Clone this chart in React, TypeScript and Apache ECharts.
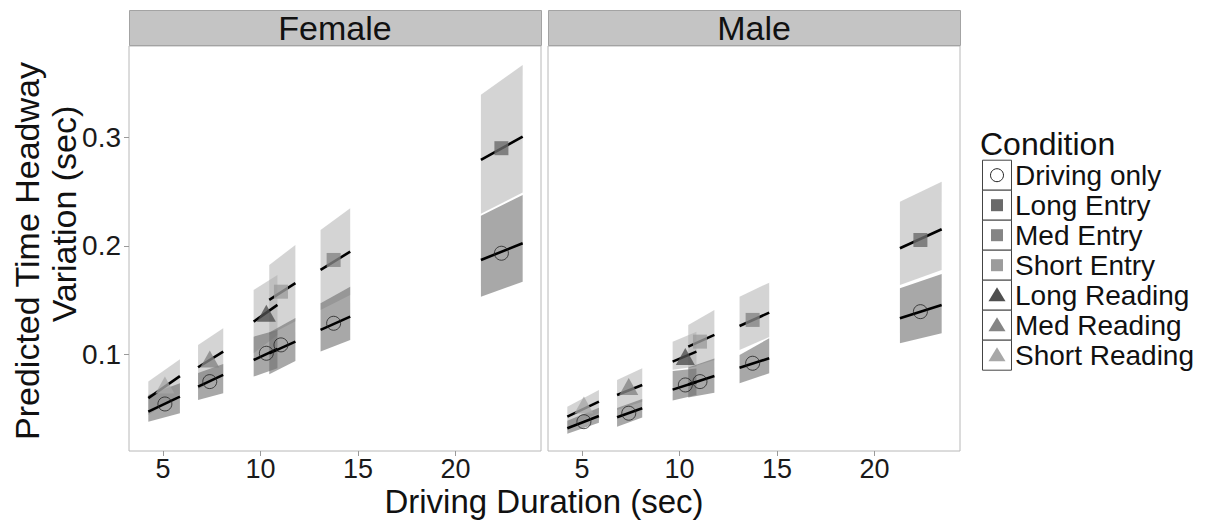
import React, { useEffect, useRef } from "react";
import * as echarts from "echarts";

const FONT = '"Liberation Sans", Arial, sans-serif';

const panels = ["Female", "Male"];
const conditions = ["Driving only", "Long Entry", "Med Entry", "Short Entry", "Long Reading", "Med Reading", "Short Reading"];
const conditionColors = ["none", "#6a6a6a", "#858585", "#9c9c9c", "#4f4f4f", "#858585", "#a8a8a8"];
const conditionSymbols = ["circle", "rect", "rect", "rect", "triangle", "triangle", "triangle"];

// task condition at each mean driving duration
const taskOrder = ["Short Reading", "Med Reading", "Long Reading", "Short Entry", "Med Entry", "Long Entry"];
const taskMean = [5.1, 7.4, 10.3, 11.05, 13.75, 22.35];
const rangeLo = [4.25, 6.8, 9.65, 10.45, 13.08, 21.3];
const rangeHi = [5.87, 8.09, 10.87, 11.79, 14.6, 23.44];

const xTicks = [5, 10, 15, 20];
const yTicks = [0.1, 0.2, 0.3];

// Female
const fDrivePoint = [0.0544, 0.075, 0.1011, 0.1088, 0.1287, 0.1932];
const fDriveLine0 = [0.0473, 0.0704, 0.0949, 0.101, 0.1226, 0.187];
const fDriveLine1 = [0.0611, 0.0812, 0.1051, 0.1118, 0.1348, 0.2024];
const fDriveLo0 = [0.0381, 0.058, 0.0796, 0.0817, 0.1026, 0.1532];
const fDriveHi0 = [0.0627, 0.083, 0.1164, 0.1203, 0.1471, 0.2278];
const fDriveLo1 = [0.0459, 0.0643, 0.0873, 0.094, 0.1134, 0.167];
const fDriveHi1 = [0.0735, 0.0913, 0.1226, 0.1336, 0.1624, 0.2469];

const fTaskPoint = [0.0719, 0.0959, 0.138, 0.1578, 0.187, 0.2899];
const fTaskLine0 = [0.0598, 0.0882, 0.1302, 0.1502, 0.1778, 0.2791];
const fTaskLine1 = [0.0801, 0.1026, 0.1456, 0.1656, 0.1947, 0.3006];
const fTaskLo0 = [0.0443, 0.0677, 0.101, 0.118, 0.141, 0.2295];
const fTaskHi0 = [0.075, 0.1087, 0.1594, 0.1824, 0.2146, 0.339];
const fTaskLo1 = [0.0636, 0.081, 0.118, 0.1306, 0.1547, 0.249];
const fTaskHi1 = [0.0956, 0.1241, 0.1732, 0.2008, 0.2346, 0.3666];

// Male
const mDrivePoint = [0.0381, 0.0459, 0.0719, 0.075, 0.0919, 0.1394];
const mDriveLine0 = [0.032, 0.0422, 0.0676, 0.0724, 0.0878, 0.1333];
const mDriveLine1 = [0.0434, 0.0505, 0.0746, 0.0802, 0.0965, 0.1456];
const mDriveLo0 = [0.027, 0.0335, 0.0575, 0.0604, 0.0735, 0.1103];
const mDriveHi0 = [0.039, 0.0507, 0.0848, 0.088, 0.0995, 0.161];
const mDriveLo1 = [0.037, 0.0419, 0.0627, 0.0647, 0.0827, 0.1195];
const mDriveHi1 = [0.051, 0.059, 0.087, 0.0963, 0.1149, 0.1741];

const mTaskPoint = [0.0535, 0.0704, 0.098, 0.1118, 0.1318, 0.2054];
const mTaskLine0 = [0.0427, 0.0627, 0.0934, 0.1072, 0.1262, 0.1978];
const mTaskLine1 = [0.0565, 0.0719, 0.1026, 0.118, 0.1385, 0.2153];
const mTaskLo0 = [0.0335, 0.0489, 0.0858, 0.0872, 0.1041, 0.164];
const mTaskHi0 = [0.0519, 0.0765, 0.1118, 0.1272, 0.1532, 0.2407];
const mTaskLo1 = [0.0458, 0.0565, 0.089, 0.095, 0.1161, 0.1778];
const mTaskHi1 = [0.0673, 0.0873, 0.121, 0.141, 0.1661, 0.2591];

const panelData = [
  {
    drivePoint: fDrivePoint, driveLine0: fDriveLine0, driveLine1: fDriveLine1,
    driveLo0: fDriveLo0, driveHi0: fDriveHi0, driveLo1: fDriveLo1, driveHi1: fDriveHi1,
    taskPoint: fTaskPoint, taskLine0: fTaskLine0, taskLine1: fTaskLine1,
    taskLo0: fTaskLo0, taskHi0: fTaskHi0, taskLo1: fTaskLo1, taskHi1: fTaskHi1,
  },
  {
    drivePoint: mDrivePoint, driveLine0: mDriveLine0, driveLine1: mDriveLine1,
    driveLo0: mDriveLo0, driveHi0: mDriveHi0, driveLo1: mDriveLo1, driveHi1: mDriveHi1,
    taskPoint: mTaskPoint, taskLine0: mTaskLine0, taskLine1: mTaskLine1,
    taskLo0: mTaskLo0, taskHi0: mTaskHi0, taskLo1: mTaskLo1, taskHi1: mTaskHi1,
  },
];

const GRID_TOP = 46;
const GRID_H = 405;
const GRID_W = 412;
const GRID_LEFTS = [129, 548];

function bandSeries(gi: number, data: number[][], fill: string, name: string) {
  return {
    type: "custom",
    name,
    xAxisIndex: gi,
    yAxisIndex: gi,
    z: 1,
    silent: true,
    encode: { x: [0, 1], y: [2, 3, 4, 5] },
    data,
    renderItem: (params: any, api: any) => {
      const a = api.coord([api.value(0), api.value(2)]);
      const b = api.coord([api.value(0), api.value(3)]);
      const c = api.coord([api.value(1), api.value(5)]);
      const d = api.coord([api.value(1), api.value(4)]);
      return { type: "polygon", shape: { points: [a, b, c, d] }, style: { fill } };
    },
  };
}

function lineSeries(gi: number, data: number[][]) {
  return {
    type: "custom",
    xAxisIndex: gi,
    yAxisIndex: gi,
    z: 2,
    silent: true,
    encode: { x: [0, 1], y: [2, 3] },
    data,
    renderItem: (params: any, api: any) => {
      const p0 = api.coord([api.value(0), api.value(2)]);
      const p1 = api.coord([api.value(1), api.value(3)]);
      return {
        type: "line",
        shape: { x1: p0[0], y1: p0[1], x2: p1[0], y2: p1[1] },
        style: { stroke: "#000", lineWidth: 2.6 },
      };
    },
  };
}

function centeredText(text: string, x: number, y: number, size: number, lineHeight: number, rotation = 0, align = "center") {
  return {
    type: "text",
    x,
    y,
    rotation,
    style: {
      text,
      fontSize: size,
      lineHeight,
      fontFamily: FONT,
      fill: "#111",
      align,
      verticalAlign: "middle",
      textAlign: align,
      textVerticalAlign: "middle",
    },
  };
}

function buildOption() {
  const series: any[] = [];
  panelData.forEach((pd, gi) => {
    series.push(
      bandSeries(gi, taskMean.map((_, i) => [rangeLo[i], rangeHi[i], pd.taskLo0[i], pd.taskHi0[i], pd.taskLo1[i], pd.taskHi1[i]]), "rgba(170,170,170,0.5)", "task band")
    );
    series.push(
      bandSeries(gi, taskMean.map((_, i) => [rangeLo[i], rangeHi[i], pd.driveLo0[i], pd.driveHi0[i], pd.driveLo1[i], pd.driveHi1[i]]), "rgba(110,110,110,0.6)", "driving band")
    );
    series.push(lineSeries(gi, taskMean.map((_, i) => [rangeLo[i], rangeHi[i], pd.driveLine0[i], pd.driveLine1[i]])));
    series.push(lineSeries(gi, taskMean.map((_, i) => [rangeLo[i], rangeHi[i], pd.taskLine0[i], pd.taskLine1[i]])));
    series.push({
      type: "scatter",
      name: "Driving only",
      xAxisIndex: gi,
      yAxisIndex: gi,
      z: 3,
      symbol: "circle",
      symbolSize: 14,
      itemStyle: { color: "rgba(0,0,0,0)", borderColor: "#222", borderWidth: 1 },
      data: taskMean.map((x, i) => [x, pd.drivePoint[i]]),
    });
    taskOrder.forEach((cond, i) => {
      const ci = conditions.indexOf(cond);
      const sym = conditionSymbols[ci];
      series.push({
        type: "scatter",
        name: cond,
        xAxisIndex: gi,
        yAxisIndex: gi,
        z: 4,
        symbol: sym,
        symbolSize: sym === "triangle" ? [19, 17] : 14,
        itemStyle: { color: conditionColors[ci] },
        data: [[taskMean[i], pd.taskPoint[i]]],
      });
    });
  });

  const graphic: any[] = [];
  panels.forEach((p, gi) => {
    graphic.push({
      type: "rect",
      shape: { x: GRID_LEFTS[gi] + 0.5, y: 10.5, width: GRID_W, height: 35 },
      style: { fill: "#c4c4c4", stroke: "#a3a3a3", lineWidth: 1 },
    });
    graphic.push(centeredText(p, GRID_LEFTS[gi] + GRID_W / 2, 28, 34, 30));
  });
  graphic.push(centeredText("Driving Duration (sec)", 544, 501, 33, 33));
  graphic.push(centeredText("Predicted Time Headway", 27, 251, 34, 30, Math.PI / 2));
  graphic.push(centeredText("Variation (sec)", 64, 214, 34, 30, Math.PI / 2));
  graphic.push(centeredText("Condition", 980, 144, 32, 28, 0, "left"));
  conditions.forEach((c, i) => {
    const cy = 175.2 + i * 30;
    const cx = 997;
    graphic.push({
      type: "rect",
      shape: { x: 982.5, y: cy - 15, width: 29, height: 30 },
      style: { fill: "#fff", stroke: "#444", lineWidth: 1 },
    });
    const sym = conditionSymbols[i];
    if (sym === "circle") {
      graphic.push({ type: "circle", shape: { cx, cy, r: 6.5 }, style: { fill: "none", stroke: "#222", lineWidth: 1 } });
    } else if (sym === "rect") {
      graphic.push({ type: "rect", shape: { x: cx - 6, y: cy - 6, width: 12, height: 12 }, style: { fill: conditionColors[i] } });
    } else {
      graphic.push({ type: "polygon", shape: { points: [[cx, cy - 8], [cx + 8.5, cy + 6], [cx - 8.5, cy + 6]] }, style: { fill: conditionColors[i] } });
    }
    graphic.push(centeredText(c, 1015, cy, 28, 26, 0, "left"));
  });

  return {
    animation: false,
    backgroundColor: "#fff",
    textStyle: { fontFamily: FONT },
    grid: GRID_LEFTS.map((left) => ({
      left,
      top: GRID_TOP,
      width: GRID_W,
      height: GRID_H,
      show: true,
      backgroundColor: "#fff",
      borderColor: "#b8b8b8",
      borderWidth: 1,
      containLabel: false,
    })),
    xAxis: GRID_LEFTS.map((_, gi) => ({
      type: "value",
      gridIndex: gi,
      min: 3.26,
      max: 24.38,
      axisLine: { show: false },
      splitLine: { show: false },
      axisTick: { show: true, customValues: xTicks, length: 5, lineStyle: { color: "#9a9a9a", width: 1 } },
      axisLabel: { customValues: xTicks, fontSize: 27, lineHeight: 27, color: "#1a1a1a", margin: 4, fontFamily: FONT },
    })),
    yAxis: GRID_LEFTS.map((_, gi) => ({
      type: "value",
      gridIndex: gi,
      min: 0.0111,
      max: 0.384,
      axisLine: { show: false },
      splitLine: { show: false },
      axisTick: { show: gi === 0, customValues: yTicks, length: 5, lineStyle: { color: "#9a9a9a", width: 1 } },
      axisLabel: {
        show: gi === 0,
        customValues: yTicks,
        fontSize: 28,
        lineHeight: 24,
        color: "#1a1a1a",
        margin: 8,
        fontFamily: FONT,
        formatter: (v: number) => v.toFixed(1),
      },
    })),
    series,
    graphic,
  };
}

export default function App() {
  const ref = useRef<HTMLDivElement>(null);
  useEffect(() => {
    if (!ref.current) return;
    const chart = echarts.init(ref.current, undefined, { renderer: "svg" });
    chart.setOption(buildOption() as any);
    return () => chart.dispose();
  }, []);
  return <div ref={ref} style={{ position: "fixed", left: 0, top: 0, width: 1208, height: 520, background: "#fff" }} />;
}
